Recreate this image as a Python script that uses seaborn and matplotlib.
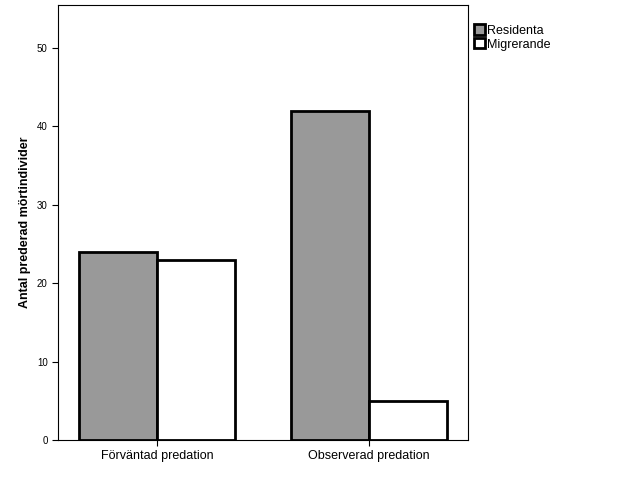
import matplotlib
matplotlib.use("Agg")
import matplotlib.pyplot as plt
import seaborn as sns
import pandas as pd

categories = ["Förväntad predation", "Observerad predation"]
groups = ["Residenta", "Migrerande"]
residenta = [24, 42]
migrerande = [23, 5]

df = pd.DataFrame({
    "cat": categories * 2,
    "grp": [groups[0]] * 2 + [groups[1]] * 2,
    "val": residenta + migrerande,
})

plt.rcParams["font.family"] = "Liberation Sans"
fig = plt.figure(figsize=(6.26, 5.01), dpi=100)
ax = fig.add_axes([58/626, 1-440/501, 410/626, 435/501])
sns.barplot(data=df, x="cat", y="val", hue="grp", order=categories, hue_order=groups,
            palette=["#999999", "#ffffff"], edgecolor="black", linewidth=2,
            width=0.735, saturation=1, ax=ax, legend=True)
ax.set_xlim(-0.467, 1.467)
ax.set_ylim(0, 55.5)
ax.set_yticks([0, 10, 20, 30, 40, 50])
ax.tick_params(labelsize=9, length=4)
ax.tick_params(axis="y", labelsize=7)
ax.set_xlabel("")
ax.set_ylabel("Antal prederad mörtindivider", fontsize=9, fontweight="bold")
for s in ax.spines.values():
    s.set_linewidth(0.8)
leg = ax.legend(loc="upper left", bbox_to_anchor=(1.0, 0.97), frameon=False,
                fontsize=9, handlelength=0.9, handleheight=0.9, handletextpad=0.1,
                labelspacing=0.1, borderaxespad=0.1)
fig.savefig("out.png", dpi=100)
